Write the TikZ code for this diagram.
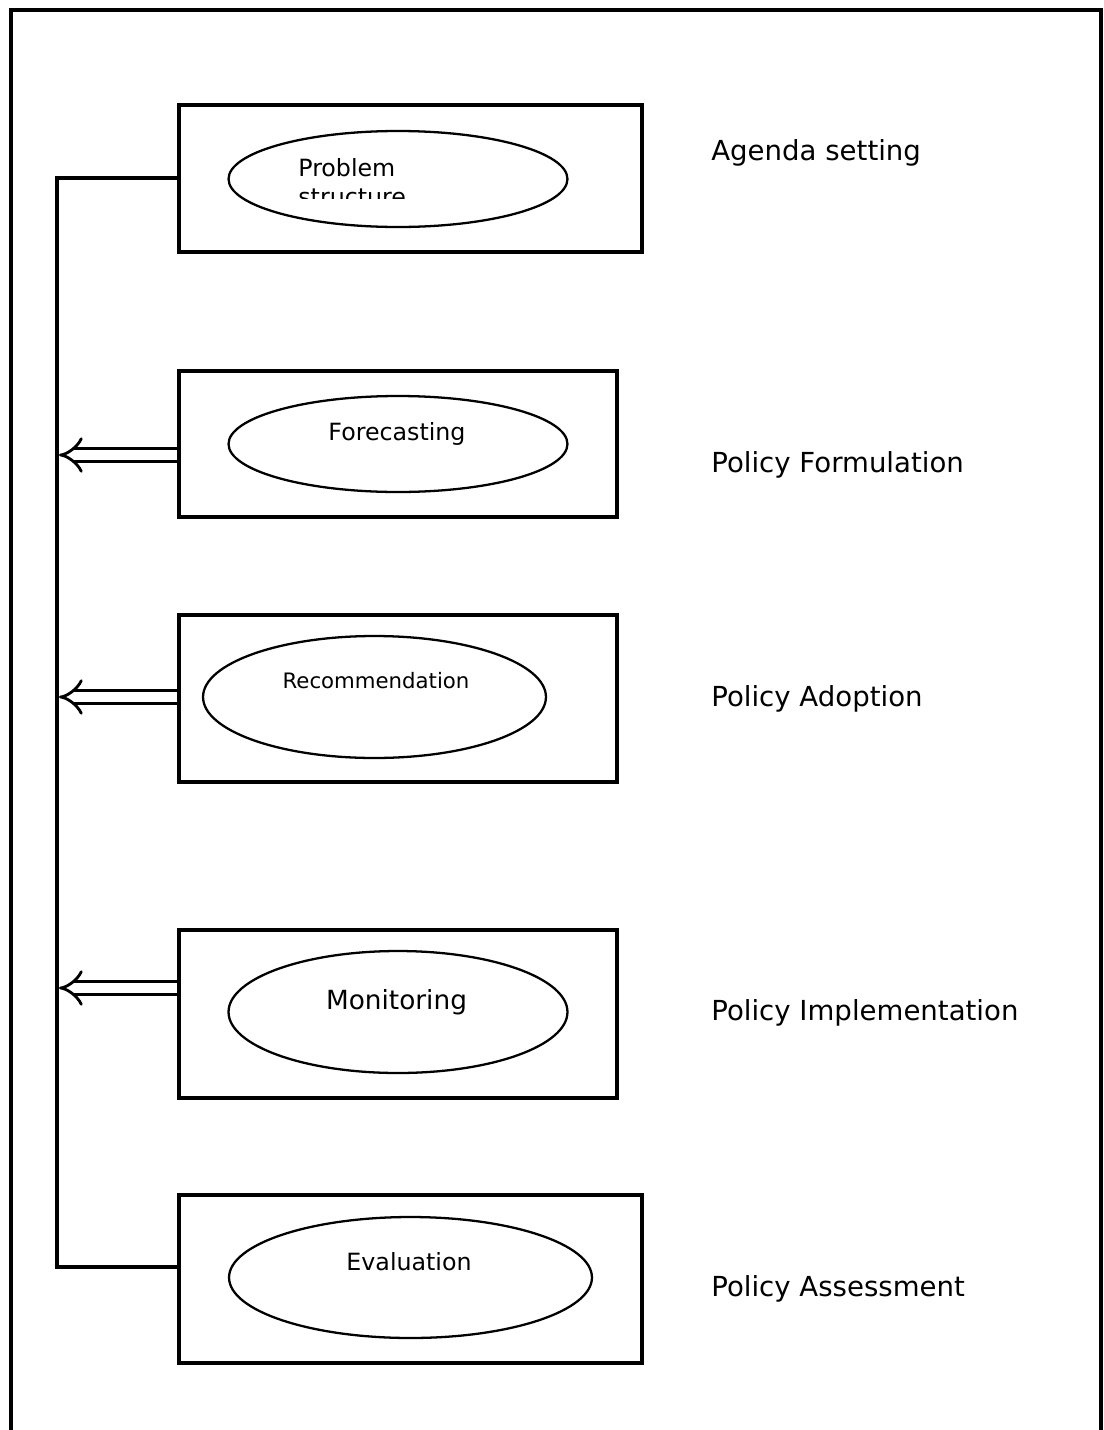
\documentclass[tikz,border=0pt]{standalone}
\usepackage{fontspec}
\setmainfont{DejaVu Sans}
\usetikzlibrary{shapes.geometric, arrows.meta}

\tikzset{
  stagebox/.style={draw, line width=2pt, inner sep=0pt},
  oval/.style={draw, ellipse, line width=1.3pt, inner sep=0pt},
  tool/.style={anchor=base, inner sep=0pt, font=\fontsize{13.5}{16}\selectfont},
  phase/.style={anchor=base west, inner sep=0pt, font=\fontsize{15.7}{18}\selectfont},
  spine/.style={line width=1.9pt},
  back/.style={double, line width=1.6pt, double distance=5.4pt,
    -{Implies[length=24pt, width=18pt]}},
}

\begin{document}
\begin{tikzpicture}[x=0.02cm, y=-0.02cm]
\useasboundingbox (0,0) rectangle (1104,1430);
% outer frame (open at the bottom)
\draw[line width=2.4pt] (11,1430) -- (11,10) -- (1101,10) -- (1101,1430);

% stages
\node[stagebox, minimum width=9.26cm, minimum height=2.94cm] (b1) at (410.5,178.5) {};
\node[stagebox, minimum width=8.76cm, minimum height=2.92cm] (b2) at (398,444) {};
\node[stagebox, minimum width=8.76cm, minimum height=3.34cm] (b3) at (398,698.5) {};
\node[stagebox, minimum width=8.76cm, minimum height=3.36cm] (b4) at (398,1014) {};
\node[stagebox, minimum width=9.26cm, minimum height=3.36cm] (b5) at (410.5,1279) {};

\node[oval, minimum width=6.78cm, minimum height=1.92cm] (e1) at (398,179) {};
\node[oval, minimum width=6.78cm, minimum height=1.92cm] (e2) at (398,444) {};
\node[oval, minimum width=6.86cm, minimum height=2.44cm] (e3) at (374.5,697) {};
\node[oval, minimum width=6.78cm, minimum height=2.44cm] (e4) at (398,1012) {};
\node[oval, minimum width=7.26cm, minimum height=2.42cm] (e5) at (410.5,1277.5) {};

% methods
\begin{scope}
\clip (200,140) rectangle (600,198);
\node[tool, anchor=base west] (prob) at (298,176) {Problem};
\node[tool, anchor=base west] (struct) at (298,205) {structure};
\end{scope}
\node[tool] (fore) at (397,440) {Forecasting};
\node[tool, font=\fontsize{12.1}{14}\selectfont] (reco) at (376,688) {Recommendation};
\node[tool, font=\fontsize{15}{18}\selectfont] (moni) at (396.5,1009) {Monitoring};
\node[tool] (eval) at (409,1270) {Evaluation};

% phases
\node[phase] (agenda) at (711,160) {Agenda setting};
\node[phase] (formul) at (711,472) {Policy Formulation};
\node[phase] (adopt) at (711,706) {Policy Adoption};
\node[phase] (implem) at (711,1020) {Policy Implementation};
\node[phase] (assess) at (711,1296) {Policy Assessment};

% feedback line
\coordinate (top) at (57,178);
\coordinate (bot) at (57,1267);
\draw[spine] (b1.west |- top) -- (top) -- (bot) -- (b5.west |- bot);
\coordinate (s2) at (59,455);
\coordinate (s3) at (59,697);
\coordinate (s4) at (59,988);
\draw[back] (b2.west |- s2) -- (s2);
\draw[back] (b3.west |- s3) -- (s3);
\draw[back] (b4.west |- s4) -- (s4);
\end{tikzpicture}
\end{document}
